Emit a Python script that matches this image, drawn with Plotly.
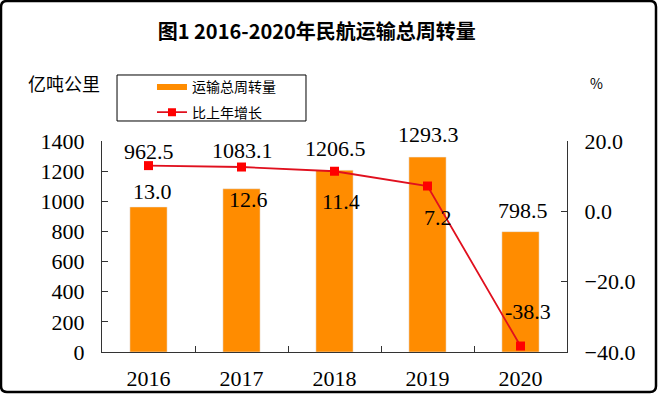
import plotly.graph_objects as go

years = ["2016", "2017", "2018", "2019", "2020"]
turnover = [962.5, 1083.1, 1206.5, 1293.3, 798.5]
growth = [13.0, 12.6, 11.4, 7.2, -38.3]
turnover_labels = ["962.5", "1083.1", "1206.5", "1293.3", "798.5"]
growth_labels = ["13.0", "12.6", "11.4", "7.2", "-38.3"]

# label placement offsets (pixels)
bar_label_dy = [55, 38, 22, 23, 21]
bar_label_dx = [0, 1, 1, 1, 2]
line_label_dy = [-26, -32, -30, -31, 35]
line_label_dx = [4, 7, 6, 10, 7]

NUMFONT = "Liberation Serif"
CJK = "Noto Sans CJK SC"
ORANGE = "#FF8C00"
RED_LINE = "#E0101E"
RED_MARK = "#FF0000"

fig = go.Figure()
fig.add_trace(go.Bar(x=years, y=turnover, marker_color=ORANGE, width=0.4,
                     showlegend=False, name="运输总周转量"))
fig.add_trace(go.Scatter(x=years, y=growth, yaxis="y2", mode="lines+markers",
                         line=dict(color=RED_LINE, width=1.8),
                         marker=dict(symbol="square", size=9, color=RED_MARK),
                         showlegend=False, name="比上年增长"))
# legend entries
fig.add_trace(go.Scatter(x=[years[0]], y=[None], mode="lines", name="运输总周转量",
                         line=dict(color=ORANGE, width=6), legendgroup="a"))
fig.add_trace(go.Scatter(x=[years[0]], y=[None], mode="lines+markers", name="比上年增长",
                         line=dict(color=RED_LINE, width=1.8),
                         marker=dict(symbol="square", size=8, color=RED_MARK),
                         legendgroup="b"))

ann = []
for i, y in enumerate(years):
    ann.append(dict(x=i, y=turnover[i], xref="x", yref="y", text=turnover_labels[i],
                    showarrow=False, yanchor="middle", xanchor="center",
                    yshift=bar_label_dy[i], xshift=bar_label_dx[i],
                    font=dict(family=NUMFONT, size=22, color="#000")))
    ann.append(dict(x=i, y=growth[i], xref="x", yref="y2", text=growth_labels[i],
                    showarrow=False, yanchor="middle", xanchor="center",
                    yshift=line_label_dy[i], xshift=line_label_dx[i],
                    font=dict(family=NUMFONT, size=22, color="#000")))

ann.append(dict(x=-0.082, y=1.275, xref="paper", yref="paper", text="亿吨公里",
                showarrow=False, xanchor="center", yanchor="middle",
                font=dict(family=CJK, size=18, color="#000")))
ann.append(dict(x=1.0645, y=1.275, xref="paper", yref="paper", text="%",
                showarrow=False, xanchor="center", yanchor="middle",
                font=dict(family=CJK, size=14, color="#000")))

# frame and legend box (paper coords)
x0, x1, y0, y1 = -0.2172, 1.1914, -0.1896, 1.6635
rx, ry = 0.0129, 0.0284
frame = (f"M {x0+rx},{y1} L {x1-rx},{y1} Q {x1},{y1} {x1},{y1-ry} "
         f"L {x1},{y0+ry} Q {x1},{y0} {x1-rx},{y0} L {x0+rx},{y0} "
         f"Q {x0},{y0} {x0},{y0+ry} L {x0},{y1-ry} Q {x0},{y1} {x0+rx},{y1} Z")
shapes = [
    dict(type="path", xref="paper", yref="paper", path=frame,
         line=dict(color="#000", width=2.5)),
    dict(type="rect", xref="paper", yref="paper", x0=0.0323, x1=0.4387,
         y0=1.0948, y1=1.3128, line=dict(color="#000", width=1)),
]

fig.update_layout(
    width=660, height=396,
    margin=dict(l=102, r=93, t=141, b=44, autoexpand=False),
    paper_bgcolor="white", plot_bgcolor="white",
    title=dict(text="<b>图1 2016-2020年民航运输总周转量</b>", x=0.48, y=0.919,
               xanchor="center", yanchor="middle",
               font=dict(family=CJK, size=20, color="#000")),
    xaxis=dict(type="category", range=[-0.5, 4.5], showline=True, linecolor="#333",
               linewidth=1.2, ticks="inside", tickson="boundaries", ticklen=6,
               tickcolor="#333", tickfont=dict(family=NUMFONT, size=22, color="#000"),
               ticklabelstandoff=6, showgrid=False, zeroline=False),
    yaxis=dict(range=[0, 1400], dtick=200, showline=True, linecolor="#333",
               linewidth=1.2, ticks="inside", ticklen=6, tickcolor="#333",
               tickfont=dict(family=NUMFONT, size=22, color="#000"),
               ticklabelstandoff=12, showgrid=False, zeroline=False),
    yaxis2=dict(range=[-40, 20], dtick=20, tickformat=".1f", overlaying="y",
                side="right", showline=True, linecolor="#333", linewidth=1.2,
                ticks="inside", ticklen=6, tickcolor="#333",
                tickfont=dict(family=NUMFONT, size=22, color="#000"),
                ticklabelstandoff=12, showgrid=False, zeroline=False),
    legend=dict(x=0.1075, y=1.33, xanchor="left", yanchor="top",
                bgcolor="rgba(0,0,0,0)", borderwidth=0, traceorder="grouped",
                tracegroupgap=4, font=dict(family=CJK, size=14, color="#000")),
    annotations=ann, shapes=shapes, bargap=0.6,
)

fig.write_html("out.html", config={"displayModeBar": False},
               post_script="document.body.style.margin='0px';document.body.style.padding='0px';")
